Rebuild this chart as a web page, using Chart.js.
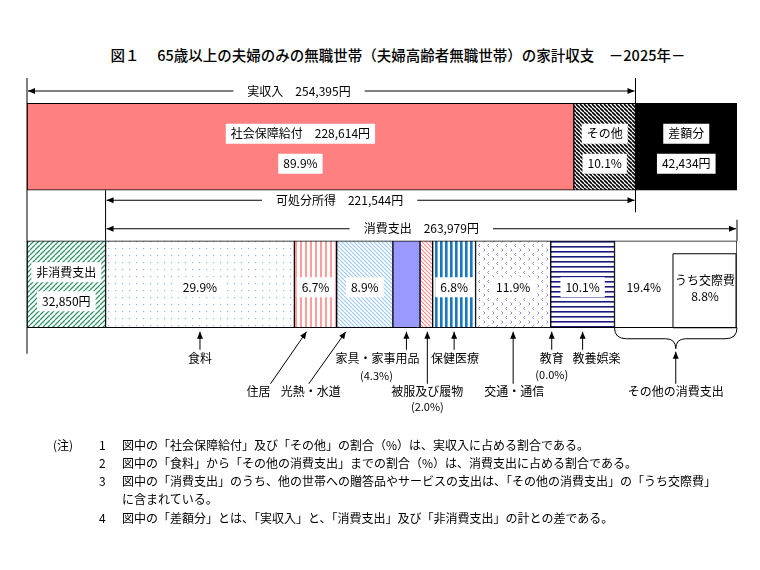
<!DOCTYPE html>
<html>
<head>
<meta charset="utf-8">
<title>夫婦高齢者無職世帯の家計収支</title>
<script src="https://cdn.jsdelivr.net/npm/chart.js"></script>
<style>
    * {
        margin: 0;
        padding: 0;
        box-sizing: border-box;
    }

    body {
        background-color: white;
        width: 760px;
        height: 570px;
        position: relative;
        overflow: hidden;
        font-family: "Noto Sans CJK JP", sans-serif;
        color: black;
    }

    #chart {
        position: absolute;
        left: 0;
        top: 0;
    }

    h1 {
        position: absolute;
        top: 44px;
        left: 0;
        width: 796px;
        text-align: center;
        font-size: 14.5px;
        line-height: 22px;
        font-weight: 500;
        white-space: nowrap;
    }

    .note {
        position: absolute;
        font-size: 12px;
        line-height: 18px;
        white-space: nowrap;
    }
</style>
</head>

<body>
    <h1>図１　 65歳以上の夫婦のみの無職世帯（夫婦高齢者無職世帯）の家計収支　－2025年－</h1>
    <canvas id="chart" width="760" height="570"></canvas>

    <div class="note" style="left:53px; top:436px;">(注)</div>
    <div class="note" style="left:99px; top:436px;">1</div>
    <div class="note" style="left:122px; top:436px;">図中の「社会保障給付」及び「その他」の割合（%）は、実収入に占める割合である。</div>
    <div class="note" style="left:99px; top:454px;">2</div>
    <div class="note" style="left:122px; top:454px;">図中の「食料」から「その他の消費支出」までの割合（%）は、消費支出に占める割合である。</div>
    <div class="note" style="left:99px; top:472px;">3</div>
    <div class="note" style="left:122px; top:472px;">図中の「消費支出」のうち、他の世帯への贈答品やサービスの支出は、「その他の消費支出」の「うち交際費」</div>
    <div class="note" style="left:122px; top:490px;">に含まれている。</div>
    <div class="note" style="left:99px; top:509px;">4</div>
    <div class="note" style="left:122px; top:509px;">図中の「差額分」とは、「実収入」と、「消費支出」及び「非消費支出」の計との差である。</div>

    <script>
        // values (yen / percent)
        const rowLabels = ['収入', '支出'];
        const incomeLabels = ['社会保障給付', 'その他', '差額分'];
        const incomeValues = [228614, 25781, 42434];
        const incomeShares = [89.9, 10.1];
        const realIncome = 254395;
        const disposableIncome = 221544;
        const nonConsumption = 32850;
        const consumption = 263979;
        const consLabels = ['食料', '住居', '光熱・水道', '家具・家事用品', '被服及び履物', '保健医療', '交通・通信', '教育', '教養娯楽', 'その他の消費支出'];
        const consShares = [29.9, 6.7, 8.9, 4.3, 2.0, 6.8, 11.9, 0.0, 10.1, 19.4];
        const kosaiShare = 8.8;

        const FONT = '"Noto Sans CJK JP", sans-serif';
        const yen = v => v.toLocaleString('en-US') + '円';
        const pct = v => v.toFixed(1) + '%';

        const ctx = document.getElementById('chart').getContext('2d');

        function makePattern(w, h, bg, draw) {
            const c = document.createElement('canvas');
            c.width = w;
            c.height = h;
            const g = c.getContext('2d');
            g.fillStyle = bg;
            g.fillRect(0, 0, w, h);
            draw(g);
            return ctx.createPattern(c, 'repeat');
        }

        function hatch(color, size, width, forward) {
            return makePattern(size, size, 'white', g => {
                g.strokeStyle = color;
                g.lineWidth = width;
                g.beginPath();
                for (let k = -1; k <= 1; k++) {
                    if (forward) {
                        g.moveTo(k * size, size);
                        g.lineTo(k * size + size, 0);
                    } else {
                        g.moveTo(k * size, 0);
                        g.lineTo(k * size + size, size);
                    }
                }
                g.stroke();
            });
        }

        function vStripes(color, period, width) {
            return makePattern(period, 4, 'white', g => {
                g.fillStyle = color;
                g.fillRect(0, 0, width, 4);
            });
        }

        const dots = makePattern(7, 7, 'white', g => {
            g.fillStyle = '#8db8e6';
            g.fillRect(3, 3, 1.2, 1.2);
        });

        const chevrons = makePattern(9, 9, 'white', g => {
            g.strokeStyle = '#8c8ce0';
            g.lineWidth = 1;
            g.beginPath();
            g.moveTo(3, 1); g.lineTo(1.5, 2.5); g.lineTo(3, 4);
            g.moveTo(6.5, 5.5); g.lineTo(8, 7); g.lineTo(6.5, 8.5);
            g.stroke();
        });

        const hLines = makePattern(4, 5, 'white', g => {
            g.fillStyle = '#1a1a80';
            g.fillRect(0, 1, 4, 1.6);
        });

        const incomeFills = ['#ff8080', hatch('#000', 4, 1.6, false), '#000'];
        const nonConsFill = hatch('#2f9466', 5, 1.3, true);
        const consFills = [
            dots,
            vStripes('#ff9c9c', 5, 2),
            hatch('#9cc8f2', 4, 1.2, false),
            '#9999ff',
            hatch('#ff8c8c', 4, 1.2, false),
            vStripes('#1a78c2', 5, 2.6),
            chevrons,
            'white',
            hLines,
            'white'
        ];

        const datasets = [];
        incomeLabels.forEach((l, i) => datasets.push({ label: l, data: [incomeValues[i], null], backgroundColor: incomeFills[i] }));
        datasets.push({ label: '非消費支出', data: [null, nonConsumption], backgroundColor: nonConsFill });
        consLabels.forEach((l, i) => datasets.push({ label: l, data: [null, consumption * consShares[i] / 100], backgroundColor: consFills[i] }));
        datasets.forEach(d => {
            d.borderColor = '#000';
            d.borderWidth = 1;
            d.borderSkipped = false;
            d.barThickness = 87;
        });

        function arrowHead(x, y, ang) {
            ctx.save();
            ctx.translate(x, y);
            ctx.rotate(ang);
            ctx.beginPath();
            ctx.moveTo(0, 0);
            ctx.lineTo(-7, -3);
            ctx.lineTo(-7, 3);
            ctx.closePath();
            ctx.fill();
            ctx.restore();
        }

        function arrow(x1, y1, x2, y2) {
            ctx.beginPath();
            ctx.moveTo(x1, y1);
            ctx.lineTo(x2, y2);
            ctx.stroke();
            arrowHead(x2, y2, Math.atan2(y2 - y1, x2 - x1));
        }

        // double-ended span arrow with the label sitting in a gap
        function span(x1, x2, y, text, cx) {
            ctx.font = '12px ' + FONT;
            const w = ctx.measureText(text).width;
            const g1 = cx - w / 2 - 14, g2 = cx + w / 2 + 14;
            ctx.beginPath();
            ctx.moveTo(x1, y); ctx.lineTo(g1, y);
            ctx.moveTo(g2, y); ctx.lineTo(x2, y);
            ctx.stroke();
            arrowHead(x1, y, Math.PI);
            arrowHead(x2, y, 0);
            ctx.fillText(text, cx, y);
        }

        function boxed(text, cx, cy, size) {
            ctx.font = (size || 12) + 'px ' + FONT;
            const w = ctx.measureText(text).width;
            ctx.fillStyle = 'white';
            ctx.fillRect(cx - w / 2 - 5, cy - 10, w + 10, 20);
            ctx.fillStyle = 'black';
            ctx.fillText(text, cx, cy);
        }

        function label(text, cx, cy, size) {
            ctx.font = (size || 12) + 'px ' + FONT;
            ctx.fillText(text, cx, cy);
        }

        const drawings = {
            id: 'drawings',
            afterDatasetsDraw(chart) {
                const xs = chart.scales.x;
                const px = v => xs.getPixelForValue(v);
                const inc = chart.getDatasetMeta(0).data[0];
                const exp = chart.getDatasetMeta(3).data[1];
                const incTop = inc.y - inc.height / 2, incBot = inc.y + inc.height / 2;
                const expTop = exp.y - exp.height / 2, expBot = exp.y + exp.height / 2;
                const top = chart.chartArea.top;
                const total = xs.max;

                ctx.save();
                ctx.strokeStyle = '#000';
                ctx.fillStyle = '#000';
                ctx.lineWidth = 1;
                ctx.textAlign = 'center';
                ctx.textBaseline = 'middle';

                // frame lines
                ctx.beginPath();
                ctx.moveTo(px(0), top); ctx.lineTo(px(0), expBot + 26);
                ctx.moveTo(px(nonConsumption), incBot); ctx.lineTo(px(nonConsumption), expTop);
                ctx.moveTo(px(realIncome), top); ctx.lineTo(px(realIncome), incBot + 22);
                ctx.moveTo(px(total), expTop - 21); ctx.lineTo(px(total), expTop);
                ctx.stroke();

                span(px(0) + 1, px(realIncome) - 1, top + 13, '実収入　' + yen(realIncome), px(0) + 272);
                span(px(nonConsumption) + 1, px(realIncome) - 1, incBot + 10, '可処分所得　' + yen(disposableIncome), px(nonConsumption) + 234);
                span(px(nonConsumption) + 1, px(total) - 1, expTop - 12, '消費支出　' + yen(consumption), (px(nonConsumption) + px(total)) / 2);

                // income row labels
                let cum = 0;
                const incSeg = incomeValues.map(v => { const s = { a: px(cum), b: px(cum + v) }; cum += v; return s; });
                const midInc = s => (s.a + s.b) / 2;
                boxed(incomeLabels[0] + '　' + yen(incomeValues[0]), midInc(incSeg[0]), inc.y - 13);
                boxed(pct(incomeShares[0]), midInc(incSeg[0]), inc.y + 17);
                boxed(incomeLabels[1], midInc(incSeg[1]), inc.y - 13);
                boxed(pct(incomeShares[1]), midInc(incSeg[1]), inc.y + 17);
                boxed(incomeLabels[2], midInc(incSeg[2]), inc.y - 13);
                boxed(yen(incomeValues[2]), midInc(incSeg[2]), inc.y + 17);

                // expenditure row
                boxed('非消費支出', (px(0) + px(nonConsumption)) / 2, exp.y - 12);
                boxed(yen(nonConsumption), (px(0) + px(nonConsumption)) / 2, exp.y + 17);

                cum = nonConsumption;
                const seg = consShares.map(s => { const v = consumption * s / 100; const r = { a: px(cum), b: px(cum + v) }; cum += v; return r; });
                const mid = i => (seg[i].a + seg[i].b) / 2;

                // うち交際費 box inside その他の消費支出 (widened so the label fits)
                ctx.font = '12px ' + FONT;
                const kw = Math.max(px(total) - px(total - consumption * kosaiShare / 100), ctx.measureText('うち交際費').width + 4);
                const kx = px(total) - kw;
                ctx.beginPath();
                ctx.rect(kx, expTop + 13, kw - 1, expBot - expTop - 13);
                ctx.stroke();
                label('うち交際費', (kx + px(total)) / 2, exp.y - 4);
                label(pct(kosaiShare), (kx + px(total)) / 2, exp.y + 12);

                const boxedIdx = [0, 1, 2, 5, 6, 8];
                boxedIdx.forEach(i => boxed(pct(consShares[i]), mid(i), exp.y + 3));
                label(pct(consShares[9]), (seg[9].a + kx) / 2, exp.y + 3);

                // callouts under the bar
                const tipY = expBot + 4, shortY = expBot + 22, longY = expBot + 56;
                const row1 = expBot + 31, row2 = expBot + 64;

                arrow(mid(0), shortY, mid(0), tipY);
                label(consLabels[0], mid(0), row1);

                arrow(mid(1) - 45, longY, mid(1) - 9, tipY);
                label('住居', mid(1) - 57, row2);

                arrow(mid(2) - 56, longY, mid(2) - 19, tipY);
                label('光熱・水道', mid(2) - 54, row2);

                arrow(mid(3), shortY, mid(3), tipY);
                label('家具・家事用品', mid(3) - 29, row1);
                label('(' + pct(consShares[3]) + ')', mid(3) - 30, row1 + 17, 11);

                arrow(mid(4) + 1, longY, mid(4) + 1, tipY);
                label(consLabels[4], mid(4) + 1, row2);
                label('(' + pct(consShares[4]) + ')', mid(4) + 1, row2 + 15, 11);

                arrow(mid(5), shortY, mid(5), tipY);
                label(consLabels[5], mid(5) + 1, row1);

                arrow(mid(6), longY, mid(6), tipY);
                label(consLabels[6], mid(6) + 1, row2);

                arrow(seg[7].a + 1, shortY, seg[7].a + 1, tipY);
                label(consLabels[7], seg[7].a + 1, row1);
                label('(' + pct(consShares[7]) + ')', seg[7].a + 1, row1 + 16, 11);

                arrow(mid(8), shortY, mid(8), tipY);
                label(consLabels[8], mid(8) + 14, row1);

                // brace for その他の消費支出
                const bx1 = seg[9].a, bx2 = seg[9].b, bc = mid(9), by = expBot;
                ctx.beginPath();
                ctx.moveTo(bx1, by);
                ctx.quadraticCurveTo(bx1, by + 11, bx1 + 12, by + 11);
                ctx.lineTo(bc - 10, by + 11);
                ctx.quadraticCurveTo(bc, by + 11, bc, by + 21);
                ctx.quadraticCurveTo(bc, by + 11, bc + 10, by + 11);
                ctx.lineTo(bx2 - 12, by + 11);
                ctx.quadraticCurveTo(bx2, by + 11, bx2, by);
                ctx.stroke();
                arrow(bc, longY, bc, by + 24);
                label(consLabels[9], bc, row2);

                ctx.restore();
            }
        };

        new Chart(ctx, {
            type: 'bar',
            data: {
                labels: rowLabels,
                datasets: datasets
            },
            options: {
                indexAxis: 'y',
                responsive: false,
                animation: false,
                layout: {
                    padding: { left: 27, right: 23, top: 78, bottom: 217 }
                },
                scales: {
                    x: { stacked: true, display: false, min: 0, max: realIncome + incomeValues[2] },
                    y: { stacked: true, display: false }
                },
                plugins: {
                    legend: { display: false },
                    tooltip: { enabled: false }
                }
            },
            plugins: [drawings]
        });
    </script>
</body>

</html>
